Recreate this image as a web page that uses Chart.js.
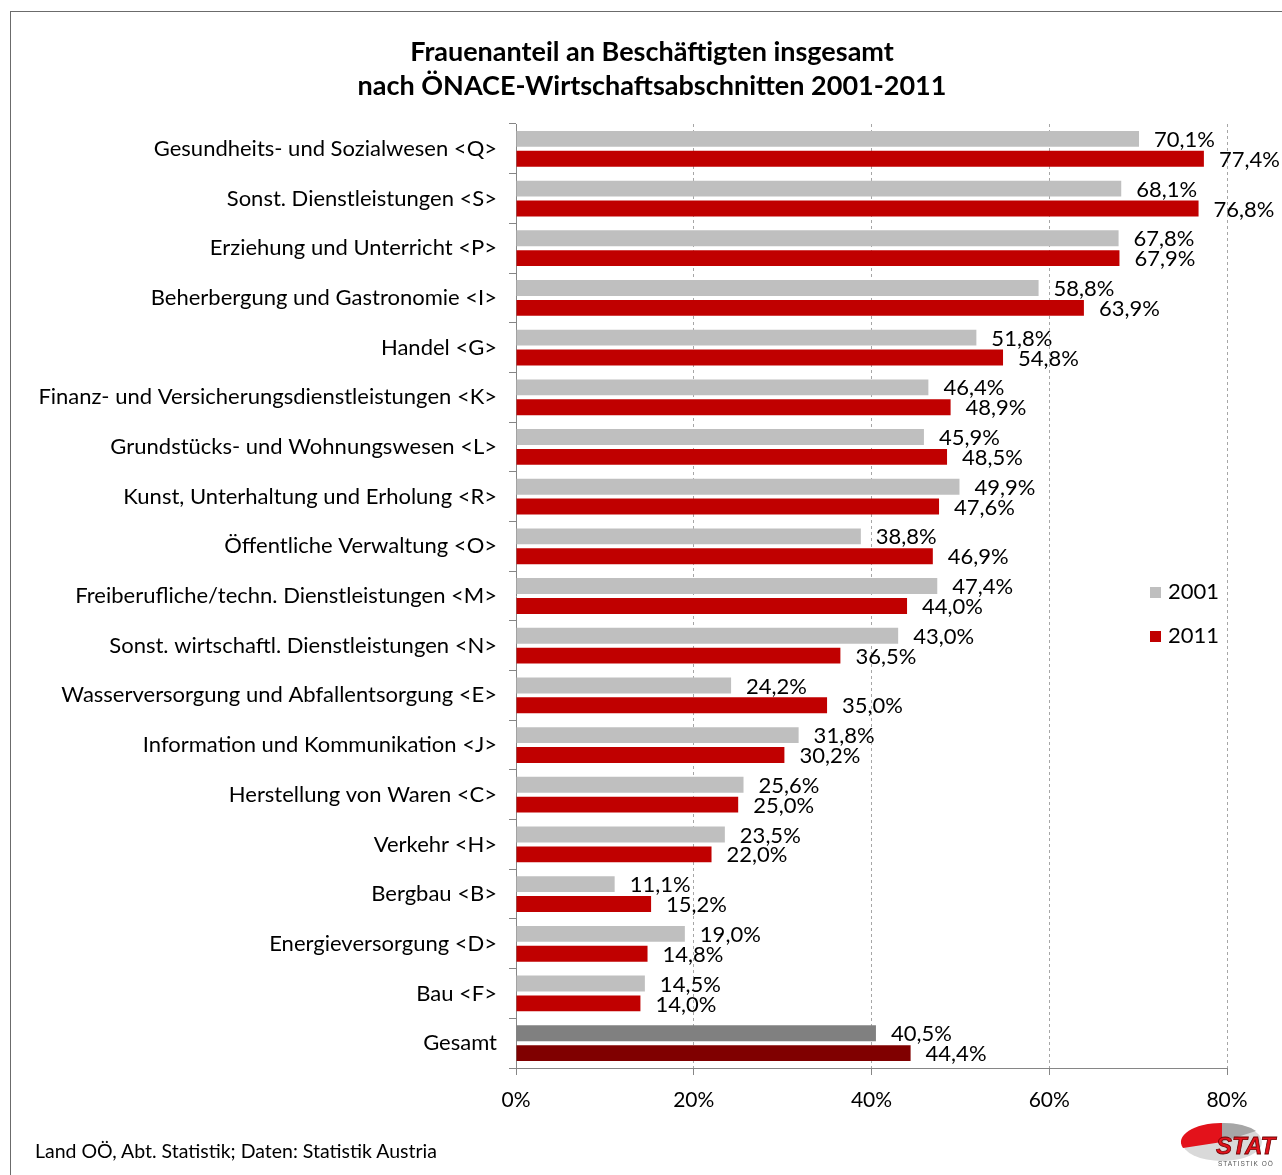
<!DOCTYPE html>
<html>
<head>
<meta charset="utf-8">
<script src="https://cdn.jsdelivr.net/npm/chart.js@4.4.1/dist/chart.umd.min.js"></script>
<style>
  html, body { margin: 0; padding: 0; background: #fff; overflow: hidden; }
  body { width: 1282px; height: 1175px; position: relative; font-family: Lato, "Open Sans", sans-serif; color: #000; }
  #frame { position: absolute; left: 10px; top: 11px; width: 1300px; height: 1200px; border: 1px solid #6b6b6b; box-sizing: border-box; }
  #title { position: absolute; left: 0; width: 1304px; top: 34px; text-align: center; font-weight: bold; font-size: 27px; line-height: 34px; }
  #chart { position: absolute; left: 0; top: 0; }
  .leg { position: absolute; left: 1150px; font-size: 22px; line-height: 24px; }
  .leg span { display: inline-block; width: 11px; height: 11px; margin-right: 7px; vertical-align: 1px; }
  #source { position: absolute; left: 35px; top: 1139px; font-size: 19.5px; }
  #logo { position: absolute; left: 1180px; top: 1118px; }
</style>
</head>
<body>
<div id="frame"></div>
<canvas id="chart" width="1282" height="1175"></canvas>
<div id="title">Frauenanteil an Beschäftigten insgesamt<br>nach ÖNACE-Wirtschaftsabschnitten 2001-2011</div>
<div class="leg" style="top:579px"><span style="background:#BFBFBF"></span>2001</div>
<div class="leg" style="top:623px"><span style="background:#C00000"></span>2011</div>
<div id="source">Land OÖ, Abt. Statistik; Daten: Statistik Austria</div>
<svg id="logo" width="100" height="55" viewBox="0 0 100 55">
  <ellipse cx="42" cy="24" rx="40" ry="19" fill="#d9d9d9"/>
  <path d="M42 24 L42 5 A40 19 0 0 0 3 30 Z" fill="#e3121b"/>
  <path d="M42 24 L42 5 A40 19 0 0 1 76 13 Z" fill="#a6a6a6"/>
  <text x="36" y="36" font-family="Liberation Sans, sans-serif" font-size="24" font-weight="bold" font-style="italic" fill="#e3121b" stroke="#6b0000" stroke-width="0.8">STAT</text>
  <text x="38" y="48" font-family="Liberation Sans, sans-serif" font-size="6.5" fill="#555" letter-spacing="1">STATISTIK OÖ</text>
</svg>
<script>
const categories = [
  'Gesundheits- und Sozialwesen <Q>',
  'Sonst. Dienstleistungen <S>',
  'Erziehung und Unterricht <P>',
  'Beherbergung und Gastronomie <I>',
  'Handel <G>',
  'Finanz- und Versicherungsdienstleistungen <K>',
  'Grundstücks- und Wohnungswesen <L>',
  'Kunst, Unterhaltung und Erholung <R>',
  'Öffentliche Verwaltung <O>',
  'Freiberufliche/techn. Dienstleistungen <M>',
  'Sonst. wirtschaftl. Dienstleistungen <N>',
  'Wasserversorgung und Abfallentsorgung <E>',
  'Information und Kommunikation <J>',
  'Herstellung von Waren <C>',
  'Verkehr <H>',
  'Bergbau <B>',
  'Energieversorgung <D>',
  'Bau <F>',
  'Gesamt'
];
const values2001 = [70.1, 68.1, 67.8, 58.8, 51.8, 46.4, 45.9, 49.9, 38.8, 47.4, 43.0, 24.2, 31.8, 25.6, 23.5, 11.1, 19.0, 14.5, 40.5];
const values2011 = [77.4, 76.8, 67.9, 63.9, 54.8, 48.9, 48.5, 47.6, 46.9, 44.0, 36.5, 35.0, 30.2, 25.0, 22.0, 15.2, 14.8, 14.0, 44.4];
const xTicks = [0, 20, 40, 60, 80];

const FONT = 'Lato, "Open Sans", sans-serif';
const isTotal = i => categories[i] === 'Gesamt';
const fmt = v => v.toFixed(1).replace('.', ',') + '%';

// value labels to the right of each bar end
const barLabels = {
  id: 'barLabels',
  afterDatasetsDraw(chart) {
    const ctx = chart.ctx;
    ctx.save();
    ctx.font = '22px ' + FONT;
    ctx.fillStyle = '#000';
    ctx.textAlign = 'left';
    ctx.textBaseline = 'middle';
    chart.data.datasets.forEach((ds, di) => {
      chart.getDatasetMeta(di).data.forEach((bar, i) => {
        ctx.fillText(fmt(ds.data[i]), bar.x + 15, bar.y + 1);
      });
    });
    ctx.restore();
  }
};

new Chart(document.getElementById('chart'), {
  type: 'bar',
  data: {
    labels: categories,
    datasets: [
      {
        label: '2001',
        data: values2001,
        backgroundColor: ctx => isTotal(ctx.dataIndex) ? '#808080' : '#BFBFBF',
      },
      {
        label: '2011',
        data: values2011,
        backgroundColor: ctx => isTotal(ctx.dataIndex) ? '#800000' : '#C00000',
      }
    ]
  },
  options: {
    indexAxis: 'y',
    responsive: false,
    animation: false,
    devicePixelRatio: 1,
    categoryPercentage: 0.8,
    barPercentage: 0.8,
    layout: { padding: { top: 124, right: 55, bottom: 57, left: 0 } },
    plugins: {
      legend: { display: false },
      tooltip: { enabled: false },
    },
    scales: {
      x: {
        min: 0,
        max: 80,
        afterBuildTicks: scale => { scale.ticks = xTicks.map(v => ({ value: v })); },
        afterFit: scale => { scale.height = 50; },
        grid: {
          color: ctx => ctx.tick && ctx.tick.value === 0 ? 'rgba(0,0,0,0)' : '#A6A6A6',
          tickBorderDash: [],
          tickColor: '#868686',
          tickLength: 7,
        },
        border: { display: true, color: '#868686', dash: [3, 3] },
        ticks: {
          color: '#000',
          padding: 13,
          font: { family: FONT, size: 21 },
          callback: v => v + '%',
        },
      },
      y: {
        afterFit: scale => { scale.width = 516; },
        grid: {
          offset: true,
          drawOnChartArea: false,
          color: '#868686',
          tickLength: 7,
        },
        border: { display: true, color: '#868686' },
        ticks: {
          color: '#000',
          padding: 12,
          autoSkip: false,
          font: { family: FONT, size: 22 },
        },
      },
    },
  },
  plugins: [barLabels],
});
</script>
</body>
</html>
